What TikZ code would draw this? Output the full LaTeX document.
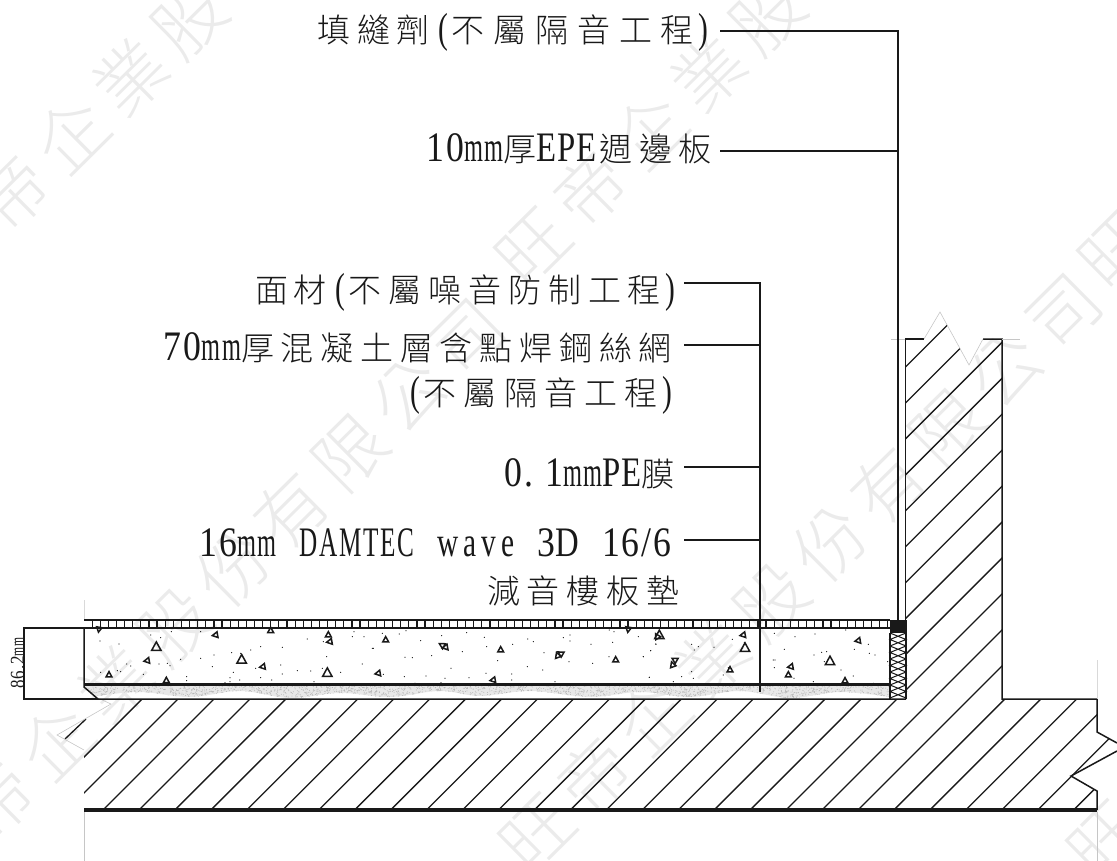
\documentclass[tikz,border=0pt]{standalone}
\usepackage{fontspec}
\setmainfont{Liberation Serif}
\newfontfamily\cjkf{Noto Sans CJK TC}[UprightFont=* Light]
\newfontfamily\cjkw[LetterSpace=16,UprightFont=* Light]{Noto Sans CJK TC}
\newfontfamily\lata[FakeStretch=0.7,LetterSpace=12]{Liberation Serif}
\newfontfamily\latd[FakeStretch=0.85,LetterSpace=5]{Liberation Serif}
\newfontfamily\latc[FakeStretch=0.6,LetterSpace=4]{Liberation Serif}
\newfontfamily\late[FakeStretch=0.78,LetterSpace=2]{Liberation Serif}
\newfontfamily\latm[FakeStretch=0.58,LetterSpace=4]{Liberation Serif}
\newcommand{\Cs}[2]{{\cjkf\fontsize{33}{33}\selectfont\addfontfeatures{LetterSpace=#1}#2}}
\newcommand{\Lt}[1]{{\lata\fontsize{42}{42}\selectfont #1}}
\newcommand{\Ld}[1]{{\latd\fontsize{42}{42}\selectfont #1}}
\newcommand{\Lc}[1]{{\latc\fontsize{42}{42}\selectfont #1}}
\newcommand{\Le}[1]{{\late\fontsize{42}{42}\selectfont #1}}
\newcommand{\Lm}{{\latm\fontsize{42}{42}\selectfont mm}}
\newcommand{\Lp}{\hspace{9pt}\Lt{(}\hspace{3pt}}
\newcommand{\Rp}{\hspace{4pt}\Lt{)}}
\definecolor{ink}{gray}{0.1}
\definecolor{wm}{gray}{0.92}
\newcommand{\stip}{(84,686)--(890,686)--(890,697)--plot[smooth,tension=.6] coordinates {(890,697)(840,692)(790,698)(740,691)(690,697)(640,692)(590,697)(530,691)(480,696)(440,691)(390,697)(340,693)(290,698)(240,691)(190,697)(140,692)(98,696)}--(92,693)--cycle}
\tikzset{
  lab/.style={anchor=base east,inner sep=0pt,text=ink},
  ldr/.style={draw=ink,line width=1.3pt},
  outl/.style={draw=ink,line width=1.5pt},
  hat/.style={draw=ink,line width=1.3pt},
  faint/.style={draw=gray!45,line width=0.6pt},
  tri/.style={draw=ink,line width=1.5pt,line join=miter},
  wmk/.style={text=wm,rotate=44.7,inner sep=0pt,font=\cjkw\fontsize{71}{71}\selectfont}
}
\begin{document}
\begin{tikzpicture}[x=1pt,y=-1pt]
\useasboundingbox (0,0) rectangle (1117,861);
% watermark
\node[wmk] (w1) at (203,597) {旺帝企業股份有限公司};
\node[wmk] (w2) at (800,572) {旺帝企業股份有限公司};
\node[wmk] (w3) at (218,-10) {旺帝企業股份有限公司};
\node[wmk] (w4) at (796,-14) {旺帝企業股份有限公司};
\node[wmk] (w5) at (1368,579) {旺帝企業股份有限公司};
\node[wmk] (w6) at (1379,-11) {旺帝企業股份有限公司};
% hatch
\begin{scope}
\clip (84,699)--(906,699)--(906,339)--(924,339)--(940,312)--(969,365)--(983,339)--(1002,339)--(1002,699)--(1097,699)--(1097,732)--(1125,747)--(1071,776)--(1097,791)--(1097,808)--(84,808)--cycle;
\foreach \n in {-2,...,27}{
  \pgfmathsetmacro{\k}{913+35.95*\n}
  \draw[hat] ({\k-820},820)--({\k-300},300);
}
\end{scope}
\coordinate (s1) at (65,739); \coordinate (s2) at (86,719);
\draw[hat] (s1)--(s2);
% structure outline
\draw[outl] (905.5,620)--(905.5,339)--(924,339);
\draw[outl] (983,339)--(1002,339)--(1002,699)--(1097,699)--(1097,732)--(1117,743);
\draw[outl] (1117,751)--(1071,776)--(1097,791)--(1097,810);
\fill[ink] (84,808) rectangle (1097,812);
\draw[faint] (924,339)--(940,312)--(969,365)--(983,339);
\draw[faint] (891,339)--(905,339) (1002,339)--(1020,339);
\draw[faint] (98,698)--(111,704)--(57,735)--(84,750);
\draw[faint] (84,812)--(84,861) (1097,812)--(1097,861);
\draw[draw=gray!30,line width=0.7pt] (1097,660)--(1097,699) (84,600)--(84,620);
% stipple layer
\fill[gray!18] \stip;
\begin{scope}
\clip \stip;
\pgfmathsetseed{7}
\foreach \i in {1,...,2400}{\fill[gray!58] ({84+806*rnd},{686+12*rnd}) circle (.5);}
\end{scope}
% floor build-up
\draw[outl] (84,628)--(84,687)--(98,699)--(906,699);
\draw[ink,line width=2.5pt] (84,684.5)--(890,684.5);
\draw[ink,line width=1.8pt] (84,620)--(890,620) (84,628)--(890,628);
\foreach \i in {1,...,99}{\draw[ink,line width=1.2pt] ({84+8.12*\i},620)--({84+8.12*\i},628);}
\fill[ink] (890,619.5) rectangle (906.5,633);
% insulation
\draw[outl] (890,633)--(890,699) (906,620)--(906,699);
\foreach \j in {0,...,4}{
  \pgfmathsetmacro{\ya}{633+13*\j}
  \pgfmathsetmacro{\yb}{\ya+6.5}
  \pgfmathsetmacro{\yc}{\ya+13}
  \draw[ink,line width=1pt] (890,\ya)--(906,\yb)--(890,\yc);
  \draw[ink,line width=1pt] (906,\ya)--(890,\yb)--(906,\yc);
}
% aggregate dots
\foreach \x/\y in {48/78,105/87,200/60,230/68,262/50,350/50,350/130,290/133,128/147,140/153,225/147,250/145,258/152,50/172,100/167,110/170,178/178,308/185,308/197,385/155,390/120,443/113,470/115,500/105,530/95,595/97,670/72,810/50,805/65,840/65,718/80,728/125,865/100,835/147,590/150,515/160,640/167,680/168,715/160,770/172,595/177,563/195,530/188,690/200,467/195,448/172,438/188,438/200,423/203}
  {\fill[ink] ({84+\x/3},{615+\y/3}) circle (.65);}
\foreach \x/\y in {37/55,88/57,108/47,10/100,105/127,127/128,152/77,185/122,215/62,277/110,290/53,343/67,350/95,383/137,428/88,473/72,490/80,522/113,580/68,600/60,600/78,663/88,728/82,718/45,732/50,805/65,858/88,842/107,820/125,717/125,668/145,597/140,472/155,518/165,243/160,103/185,168/183,225/190,297/188,348/175,425/177,425/195,555/200,838/187,40/178,135/205,213/203}
  {\fill[ink] ({370+\x/3},{615+\y/3}) circle (.65);}
\foreach \x/\y in {47/87,32/107,10/125,155/88,175/95,222/97,163/105,155/170,125/185,28/187,100/200,160/190,265/158,250/180,277/73,313/83,403/55,465/65,525/57,617/45,433/103,522/120,545/112,560/110,685/88,688/115,705/120,643/103,553/140,743/140,400/135,405/135,403/158,603/165,640/183,462/190,520/200,700/205}
  {\fill[ink] ({640+\x/3},{615+\y/3}) circle (.65);}
% aggregate triangles: x/y/size/rotation
\foreach \ox/\x/\y/\s/\r in {84/45/42/3.2/170,84/395/60/3.4/100,84/560/47/3.4/0,84/733/60/3.4/0,84/738/80/3.4/100,84/217/97/5.5/0,84/190/137/3.4/100,84/473/135/5.5/0,84/537/155/3.4/100,84/75/180/3.4/0,84/730/175/5.5/0,84/247/197/3.4/0,
370/47/75/3.4/0,370/217/91/3.4/60,370/227/97/3.4/100,370/392/105/3.4/0,370/563/122/3.4/20,370/573/116/3.4/60,370/737/135/3.4/0,370/25/175/3.4/100,370/370/195/3.4/100,370/775/42/3.4/170,370/862/65/3.4/30,
640/58/62/5.5/0,640/310/60/3.4/100,640/315/100/5.5/0,640/105/135/3.4/60,640/98/150/3.4/20,640/270/165/3.4/0,640/655/77/3.4/100,640/570/140/5.5/0,640/453/155/3.4/100,640/445/180/3.4/0,640/615/198/3.4/0}
  {\draw[tri,rotate around={\r:({\ox+\x/3},{615+\y/3})}] ({\ox+\x/3},{615+\y/3-\s}) --++(\s*.85,\s*1.55)--++(-\s*1.7,0)--cycle;}
% dimension
\draw[outl] (84,628)--(24,628)--(24,699)--(98,699);
\node[rotate=90,inner sep=0pt,text=ink] (dim) at (17.5,663) {{\latd\fontsize{20}{20}\selectfont 86.2}{\latm\fontsize{20}{20}\selectfont mm}};
% labels
\node[lab] (t1) at (708,43) {\Cs{20}{填縫劑}\Lp\Cs{27}{不屬隔音工程}\Rp};
\node[lab] (t2) at (712,162) {\Ld{10}\Lm\Cs{15}{厚}\Le{EPE}\hspace{3pt}\Cs{20}{週邊板}};
\node[lab] (t3) at (675,302) {\Cs{15}{面材}\Lp\Cs{21}{不屬噪音防制工程}\Rp};
\node[lab] (t4) at (672,360) {\Ld{70}\Lm\Cs{20.5}{厚混凝土層含點焊鋼絲網}};
\node[lab] (t5) at (672,405) {\Lp\Cs{22}{不屬隔音工程}\Rp};
\node[lab] (t6) at (675,486) {\Ld{0.}\hspace{12pt}\Ld{1}\Lm\Le{PE}\Cs{15}{膜}};
\node[lab] (t7) at (672,556) {\Ld{16}\Lm\hspace{23pt}\Lc{DAMTEC}\hspace{23pt}\Lt{wave}\hspace{23pt}\Ld{3}\Le{D}\hspace{23pt}\Ld{16/6}};
\node[lab] (t8) at (680,603) {\Cs{21}{減音樓板墊}};
% leaders
\coordinate (a1) at (720,31); \coordinate (b1) at (898,31); \coordinate (e1) at (898,620);
\coordinate (a2) at (720,151); \coordinate (b2) at (898,151);
\coordinate (a3) at (684,283); \coordinate (b3) at (760,283); \coordinate (e3) at (760,692);
\coordinate (a4) at (684,345); \coordinate (b4) at (760,345);
\coordinate (a6) at (684,467); \coordinate (b6) at (760,467);
\coordinate (a7) at (684,540); \coordinate (b7) at (760,540);
\draw[ldr] (a1)--(b1)--(e1);
\draw[ldr] (a2)--(b2);
\draw[ldr] (a3)--(b3)--(e3);
\draw[ldr] (a4)--(b4);
\draw[ldr] (a6)--(b6);
\draw[ldr] (a7)--(b7);
\end{tikzpicture}
\end{document}
